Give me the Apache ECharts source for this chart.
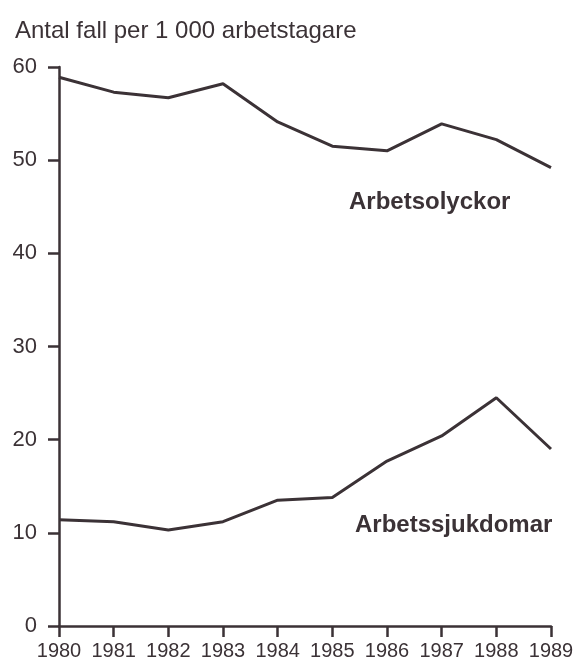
<!DOCTYPE html>
<html>
<head>
<meta charset="utf-8">
<script src="https://cdn.jsdelivr.net/npm/echarts@6/dist/echarts.min.js"></script>
<style>
html,body{margin:0;padding:0;background:#ffffff;}
#chart{width:577px;height:670px;}
</style>
</head>
<body>
<div id="chart"></div>
<script>
const years = ['1980','1981','1982','1983','1984','1985','1986','1987','1988','1989'];
const arbetsolyckor = [58.9, 57.3, 56.7, 58.2, 54.1, 51.5, 51.0, 53.9, 52.2, 49.2];
const arbetssjukdomar = [11.4, 11.2, 10.3, 11.2, 13.5, 13.8, 17.7, 20.4, 24.5, 19.0];
const yTicks = [0, 10, 20, 30, 40, 50, 60];
const titleText = 'Antal fall per 1 000 arbetstagare';
const seriesNames = ['Arbetsolyckor', 'Arbetssjukdomar'];

const ink = '#3b3236';
const font = '"Liberation Sans", Arial, Helvetica, sans-serif';

const chart = echarts.init(document.getElementById('chart'));
chart.setOption({
  animation: false,
  backgroundColor: '#ffffff',
  title: {
    text: titleText,
    left: 10,
    top: 14,
    textStyle: { fontFamily: font, fontSize: 24, fontWeight: 'normal', color: ink }
  },
  grid: { left: 59, right: 26, top: 67, bottom: 44, containLabel: false },
  xAxis: {
    type: 'category',
    data: years,
    boundaryGap: false,
    axisLine: { show: true, lineStyle: { color: ink, width: 2.5 } },
    axisTick: { show: true, alignWithLabel: true, length: 11, lineStyle: { color: ink, width: 2.5 } },
    axisLabel: { margin: 15, fontFamily: font, fontSize: 20, color: ink, interval: 0 },
    splitLine: { show: false }
  },
  yAxis: {
    type: 'value',
    min: yTicks[0],
    max: yTicks[yTicks.length - 1],
    interval: 10,
    axisLine: { show: true, lineStyle: { color: ink, width: 2.5 } },
    axisTick: { show: true, length: 11, lineStyle: { color: ink, width: 2.5 } },
    axisLabel: { margin: 22, fontFamily: font, fontSize: 22, color: ink },
    splitLine: { show: false }
  },
  graphic: [
    { type: 'text', left: 349, top: 190, style: { text: seriesNames[0], font: 'bold 24px ' + font, fill: ink } },
    { type: 'text', left: 355, top: 513, style: { text: seriesNames[1], font: 'bold 24px ' + font, fill: ink } }
  ],
  series: [
    { name: seriesNames[0], type: 'line', data: arbetsolyckor, symbol: 'none', lineStyle: { color: ink, width: 3 } },
    { name: seriesNames[1], type: 'line', data: arbetssjukdomar, symbol: 'none', lineStyle: { color: ink, width: 3 } }
  ]
});
</script>
</body>
</html>
